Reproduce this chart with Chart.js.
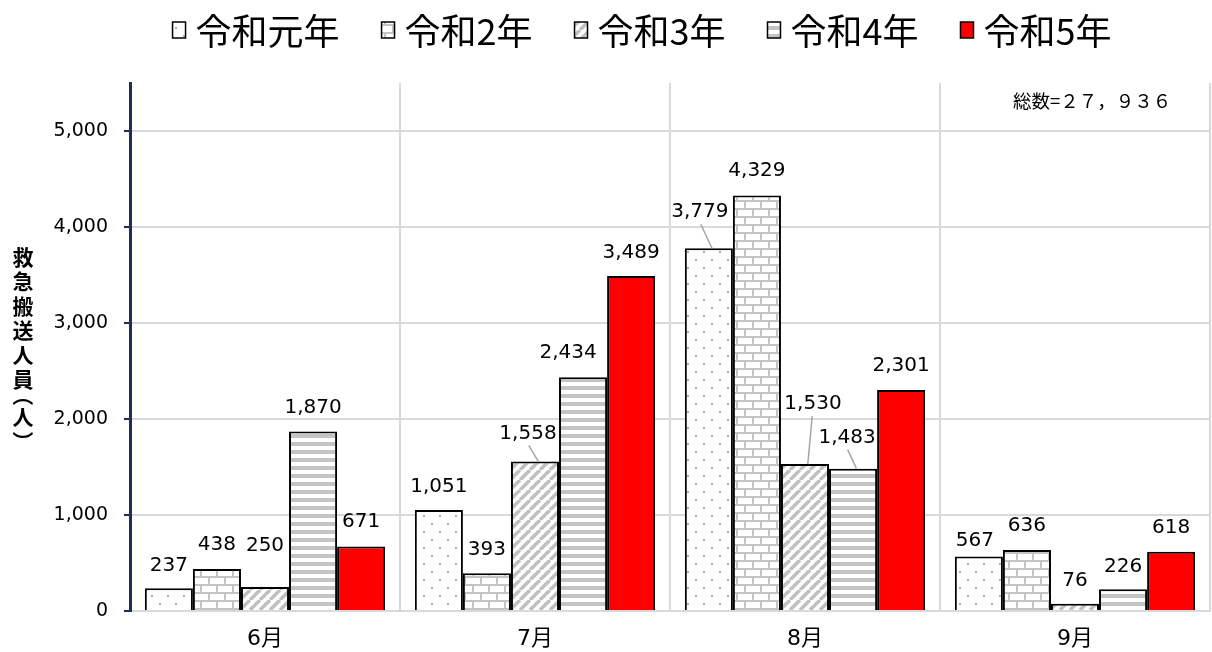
<!DOCTYPE html>
<html>
<head>
<meta charset="utf-8">
<script src="https://cdn.jsdelivr.net/npm/chart.js@4.4.1/dist/chart.umd.min.js"></script>
<style>
  html, body { margin: 0; padding: 0; background: #fff; }
  #wrap { width: 1212px; height: 652px; position: relative; }
</style>
</head>
<body>
<div id="wrap"><canvas id="heatChart"></canvas></div>
<script>
const months = ['6月', '7月', '8月', '9月'];
const seriesNames = ['令和元年', '令和2年', '令和3年', '令和4年', '令和5年'];
const r1Values = [237, 1051, 3779, 567];
const r2Values = [438, 393, 4329, 636];
const r3Values = [250, 1558, 1530, 76];
const r4Values = [1870, 2434, 1483, 226];
const r5Values = [671, 3489, 2301, 618];
const yTicks = [0, 1000, 2000, 3000, 4000, 5000];
const totalText = '総数=２７，９３６';
const yTitleChars = ['救', '急', '搬', '送', '人', '員', '（', '人', '）'];

const CJK = "'Noto Sans CJK JP', sans-serif";
const NUM = "'DejaVu Sans', 'Noto Sans CJK JP', sans-serif";

// label nudges [dataset][month] = [dx, dy, leader]
const labelNudge = [
    [[0, -22], [0, -23], [-9, -36, true], [-4, -16]],
    [[0, -24], [0, -23], [0, -25], [0, -24]],
    [[0, -41], [-7, -28, true], [8, -60, true], [0, -23]],
    [[0, -24], [-15, -25], [-6, -31, true], [0, -23]],
    [[0, -25], [0, -23], [0, -24], [0, -24]]
];

function makeTile(w, h, draw) {
    const c = document.createElement('canvas');
    c.width = w; c.height = h;
    const g = c.getContext('2d');
    g.fillStyle = '#fff';
    g.fillRect(0, 0, w, h);
    draw(g);
    return g.createPattern(c, 'repeat');
}

const dotPattern = makeTile(16, 16, g => {
    g.fillStyle = '#b0b0b0';
    g.fillRect(7, 3, 2, 2);
    g.fillRect(15, 11, 2, 2);
    g.fillRect(-1, 11, 2, 2);
});
const brickPattern = makeTile(16, 16, g => {
    g.fillStyle = '#c4c4c4';
    g.fillRect(0, 0, 16, 2);
    g.fillRect(0, 8, 16, 2);
    g.fillRect(0, 0, 2, 8);
    g.fillRect(8, 8, 2, 8);
});
const diagPattern = makeTile(10, 10, g => {
    g.strokeStyle = '#c0c0c0';
    g.lineWidth = 3.5;
    for (let k = -10; k <= 20; k += 10) {
        g.beginPath();
        g.moveTo(k, 10);
        g.lineTo(k + 10, 0);
        g.stroke();
    }
});
const stripePattern = makeTile(8, 8, g => {
    g.fillStyle = '#c4c4c4';
    g.fillRect(0, 2, 8, 4);
});

const fills = [dotPattern, brickPattern, diagPattern, stripePattern, '#ff0000'];
const allValues = [r1Values, r2Values, r3Values, r4Values, r5Values];

const labelPlugin = {
    id: 'barLabels',
    afterDatasetsDraw(chart) {
        const ctx = chart.ctx;
        ctx.save();
        ctx.font = '20px ' + NUM;
        ctx.fillStyle = '#000';
        ctx.textAlign = 'center';
        ctx.textBaseline = 'middle';
        chart.data.datasets.forEach((ds, di) => {
            const meta = chart.getDatasetMeta(di);
            meta.data.forEach((bar, i) => {
                const n = labelNudge[di][i];
                const tx = bar.x + n[0];
                const ty = bar.y + n[1];
                if (n[2]) {
                    ctx.strokeStyle = '#a6a6a6';
                    ctx.lineWidth = 1.5;
                    ctx.beginPath();
                    ctx.moveTo(tx + (bar.x - tx) * 0.1, ty + 12);
                    ctx.lineTo(bar.x + (tx - bar.x) * 0.1 + (n[0] > 0 ? 2 : 4), bar.y);
                    ctx.stroke();
                }
                ctx.fillText(ds.data[i].toLocaleString('en-US'), tx, ty);
            });
        });
        ctx.restore();
    }
};

const extrasPlugin = {
    id: 'extras',
    afterDraw(chart) {
        const ctx = chart.ctx;
        ctx.save();
        ctx.fillStyle = '#000';
        ctx.textBaseline = 'middle';

        // vertical axis title, brackets turned to vertical form
        ctx.font = 'bold 21px ' + CJK;
        ctx.textAlign = 'center';
        const steps = [0, 24.5, 24.5, 24.5, 24.5, 24.5, 16, 22, 24];
        let y = 257;
        yTitleChars.forEach((ch, k) => {
            y += steps[k];
            if (ch === '（' || ch === '）') {
                ctx.save();
                ctx.translate(23, y);
                ctx.rotate(Math.PI / 2);
                ctx.fillText(ch, 0, 0);
                ctx.restore();
            } else {
                ctx.fillText(ch, 23, y);
            }
        });

        // total note
        ctx.font = '18.5px ' + CJK;
        ctx.textAlign = 'left';
        ctx.fillText(totalText, 1013, 101);

        // legend
        ctx.font = '36px ' + CJK;
        const gapBox = 10, gapItem = 42, bw = 13, bh = 16;
        const widths = seriesNames.map(s => ctx.measureText(s).width);
        const total = widths.reduce((a, w) => a + bw + gapBox + w, 0) + gapItem * (seriesNames.length - 1);
        let x = (chart.width - total) / 2 + 36;
        const ly = 30;
        seriesNames.forEach((s, k) => {
            ctx.fillStyle = fills[k];
            ctx.fillRect(x, ly - bh / 2, bw, bh);
            ctx.strokeStyle = '#000';
            ctx.lineWidth = 1.5;
            ctx.strokeRect(x, ly - bh / 2, bw, bh);
            ctx.fillStyle = '#000';
            ctx.fillText(s, x + bw + gapBox, ly + 1);
            x += bw + gapBox + widths[k] + gapItem;
        });
        ctx.restore();
    }
};

new Chart(document.getElementById('heatChart'), {
    type: 'bar',
    data: {
        labels: months,
        datasets: seriesNames.map((name, k) => ({
            label: name,
            data: allValues[k],
            backgroundColor: fills[k],
            borderColor: '#000',
            borderWidth: 2,
            categoryPercentage: 0.89,
            barPercentage: 1.0
        }))
    },
    options: {
        responsive: true,
        maintainAspectRatio: false,
        animation: false,
        layout: { padding: { left: 0, right: 2, top: 83, bottom: 0 } },
        plugins: {
            legend: { display: false },
            tooltip: { enabled: false }
        },
        scales: {
            x: {
                grid: { color: '#d9d9d9', lineWidth: 2, drawTicks: false, offset: true },
                border: { color: '#d9d9d9', width: 2 },
                ticks: {
                    color: '#000',
                    font: { family: NUM, size: 22 },
                    padding: 15
                },
                afterFit(axis) { axis.height = 41; }
            },
            y: {
                min: 0,
                max: 5500,
                afterBuildTicks(axis) {
                    axis.ticks = yTicks.map(v => ({ value: v }));
                },
                grid: {
                    color: '#d9d9d9',
                    lineWidth: 2,
                    tickColor: '#1f2d5c',
                    tickLength: 6
                },
                border: { color: '#1f2d5c', width: 3 },
                ticks: {
                    color: '#000',
                    font: { family: NUM, size: 19 },
                    padding: 16,
                    callback: v => v.toLocaleString('en-US')
                },
                afterFit(axis) { axis.width = 130; }
            }
        }
    },
    plugins: [labelPlugin, extrasPlugin]
});
</script>
</body>
</html>
